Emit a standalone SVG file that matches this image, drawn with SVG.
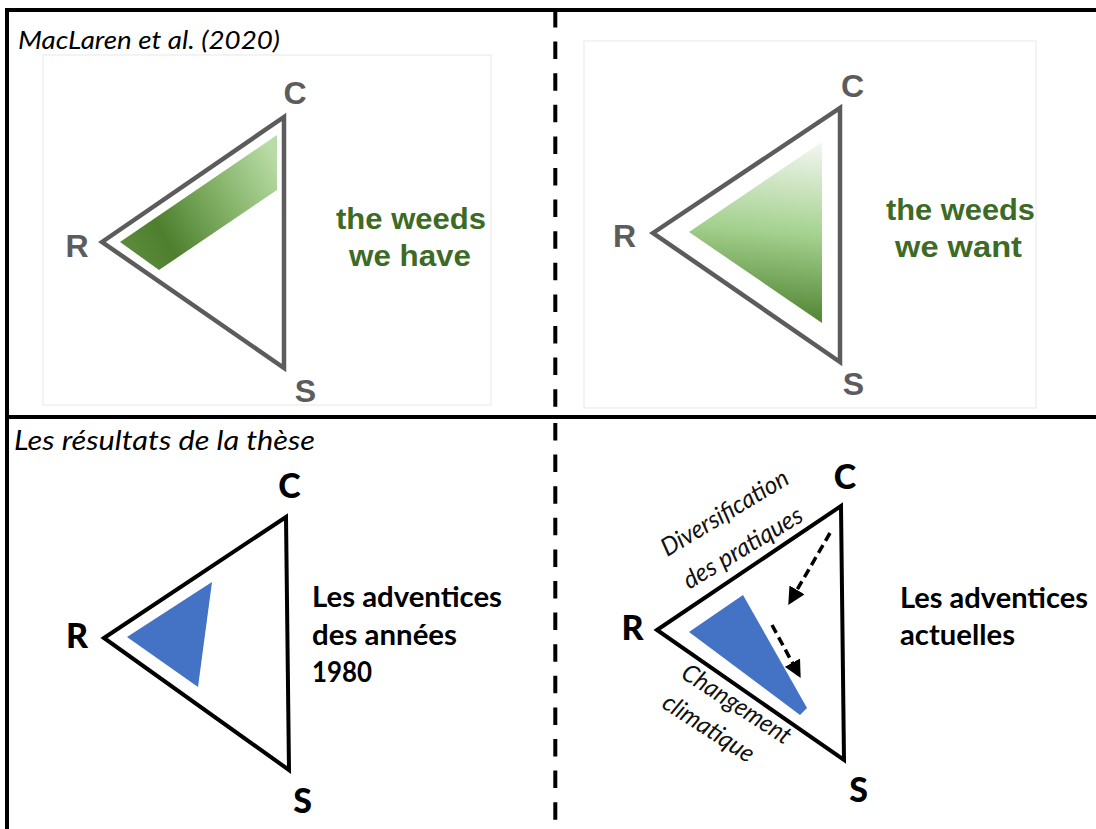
<svg xmlns="http://www.w3.org/2000/svg" width="1096" height="829" viewBox="0 0 1096 829">
  <defs>
    <style>
      .frame { stroke: #000; stroke-width: 4; fill: none; }
      .divider { stroke: #000; stroke-width: 4; fill: none; stroke-dasharray: 17.5 14.1; }
      .photo { fill: #fff; stroke: #efefef; stroke-width: 1.5; }
      .triG { fill: none; stroke: #5c5c5c; stroke-width: 4.5; stroke-linejoin: miter; }
      .triK { fill: none; stroke: #000; stroke-width: 4; stroke-linejoin: miter; }
      .blue { fill: #4472C4; }
      .lblA { font-family: "Liberation Sans", Arial, sans-serif; font-weight: bold; font-size: 32px; fill: #5c5c5c; text-anchor: middle; }
      .lblB { font-family: Lato, "Open Sans", sans-serif; font-weight: 900; font-size: 34px; fill: #000; text-anchor: middle; }
      .green { font-family: "Liberation Sans", Arial, sans-serif; font-weight: bold; font-size: 30px; fill: #3d6a24; }
      .title { font-family: Lato, "Open Sans", sans-serif; font-style: italic; fill: #000; }
      .desc { font-family: Lato, "Open Sans", sans-serif; font-weight: bold; font-size: 28px; fill: #000; }
      .edge { font-family: Lato, "Open Sans", sans-serif; font-style: italic; font-size: 25px; fill: #111; text-anchor: middle; }
      .arrow { stroke: #000; stroke-width: 3.5; fill: none; stroke-dasharray: 9 5; }
    </style>
    <linearGradient id="gBand" gradientUnits="userSpaceOnUse" x1="120" y1="250" x2="277" y2="160">
      <stop offset="0" stop-color="#5d8e3d"/>
      <stop offset="0.25" stop-color="#4d7f2f"/>
      <stop offset="0.6" stop-color="#7fae62"/>
      <stop offset="1" stop-color="#b9dca6"/>
    </linearGradient>
    <linearGradient id="gTri" gradientUnits="userSpaceOnUse" x1="790" y1="140" x2="770" y2="325">
      <stop offset="0" stop-color="#f3f6f1"/>
      <stop offset="0.5" stop-color="#a4d18e"/>
      <stop offset="1" stop-color="#4b7e2c"/>
    </linearGradient>
    <marker id="ah" viewBox="0 0 10 10" refX="8" refY="5" markerWidth="5" markerHeight="5" orient="auto" markerUnits="strokeWidth">
      <path d="M0,0 L10,5 L0,10 z" fill="#000"/>
    </marker>
  </defs>

  <rect width="1096" height="829" fill="#fff"/>

  <g id="frame">
    <line class="frame" x1="7" y1="10" x2="1096" y2="10"/>
    <line class="frame" x1="7" y1="8" x2="7" y2="829"/>
    <line class="frame" x1="7" y1="417" x2="1096" y2="417"/>
    <line class="divider" x1="555.3" y1="10" x2="555.3" y2="408"/>
    <line class="divider" x1="555.3" y1="423" x2="555.3" y2="829"/>
  </g>

  <g id="panel-top-left">
    <rect class="photo" x="43" y="55" width="448" height="350"/>
    <text class="title" x="18" y="49" font-size="26" textLength="262" lengthAdjust="spacingAndGlyphs">MacLaren et al. (2020)</text>
    <polygon fill="url(#gBand)" points="120,242 277,135 277,190 159,270"/>
    <polygon class="triG" points="102,242 284,117 284,368"/>
    <text class="lblA" x="295" y="104">C</text>
    <text class="lblA" x="77" y="257">R</text>
    <text class="lblA" x="305.5" y="402">S</text>
    <text class="green" x="336" y="229" textLength="150" lengthAdjust="spacingAndGlyphs">the weeds</text>
    <text class="green" x="349" y="266" textLength="122" lengthAdjust="spacingAndGlyphs">we have</text>
  </g>

  <g id="panel-top-right">
    <rect class="photo" x="584" y="41" width="452" height="367"/>
    <polygon fill="url(#gTri)" points="689,232 822,142 822,323"/>
    <polygon class="triG" points="653,233 840,108 840,362"/>
    <text class="lblA" x="852.5" y="97">C</text>
    <text class="lblA" x="624.5" y="247">R</text>
    <text class="lblA" x="853.5" y="395">S</text>
    <text class="green" x="886" y="220" textLength="149" lengthAdjust="spacingAndGlyphs">the weeds</text>
    <text class="green" x="895" y="257" textLength="127" lengthAdjust="spacingAndGlyphs">we want</text>
  </g>

  <g id="panel-bottom-left">
    <text class="title" x="14" y="450" font-size="27" textLength="301" lengthAdjust="spacingAndGlyphs">Les résultats de la thèse</text>
    <polygon class="blue" points="127,637 212,582 198,687"/>
    <polygon class="triK" points="104,638 286,517 289,770"/>
    <text class="lblB" x="289.5" y="498">C</text>
    <text class="lblB" x="77" y="648">R</text>
    <text class="lblB" x="302.5" y="813">S</text>
    <text class="desc" x="312" y="607" textLength="190" lengthAdjust="spacingAndGlyphs">Les adventices</text>
    <text class="desc" x="312" y="645" textLength="145" lengthAdjust="spacingAndGlyphs">des années</text>
    <text class="desc" x="312" y="682" textLength="60" lengthAdjust="spacingAndGlyphs">1980</text>
  </g>

  <g id="panel-bottom-right">
    <polygon class="blue" points="689,632 743,595 807,708 800,715"/>
    <polygon class="triK" points="657,630 841,506 844,760"/>
    <text class="lblB" x="845" y="489">C</text>
    <text class="lblB" x="632.5" y="640">R</text>
    <text class="lblB" x="858.5" y="802">S</text>
    <text class="desc" x="900" y="608" textLength="188" lengthAdjust="spacingAndGlyphs">Les adventices</text>
    <text class="desc" x="900" y="645" textLength="115" lengthAdjust="spacingAndGlyphs">actuelles</text>
    <text class="edge" transform="translate(729,520) rotate(-31)" textLength="144" lengthAdjust="spacingAndGlyphs">Diversification</text>
    <text class="edge" transform="translate(747,555) rotate(-31)" textLength="135" lengthAdjust="spacingAndGlyphs">des pratiques</text>
    <text class="edge" transform="translate(732,711) rotate(33)" textLength="125" lengthAdjust="spacingAndGlyphs">Changement</text>
    <text class="edge" transform="translate(704,735) rotate(33)" textLength="104" lengthAdjust="spacingAndGlyphs">climatique</text>
  </g>

  <g id="connectors">
    <line class="arrow" x1="830" y1="533" x2="790" y2="602" marker-end="url(#ah)"/>
    <line class="arrow" x1="772" y1="625" x2="799" y2="675" marker-end="url(#ah)"/>
  </g>
</svg>
